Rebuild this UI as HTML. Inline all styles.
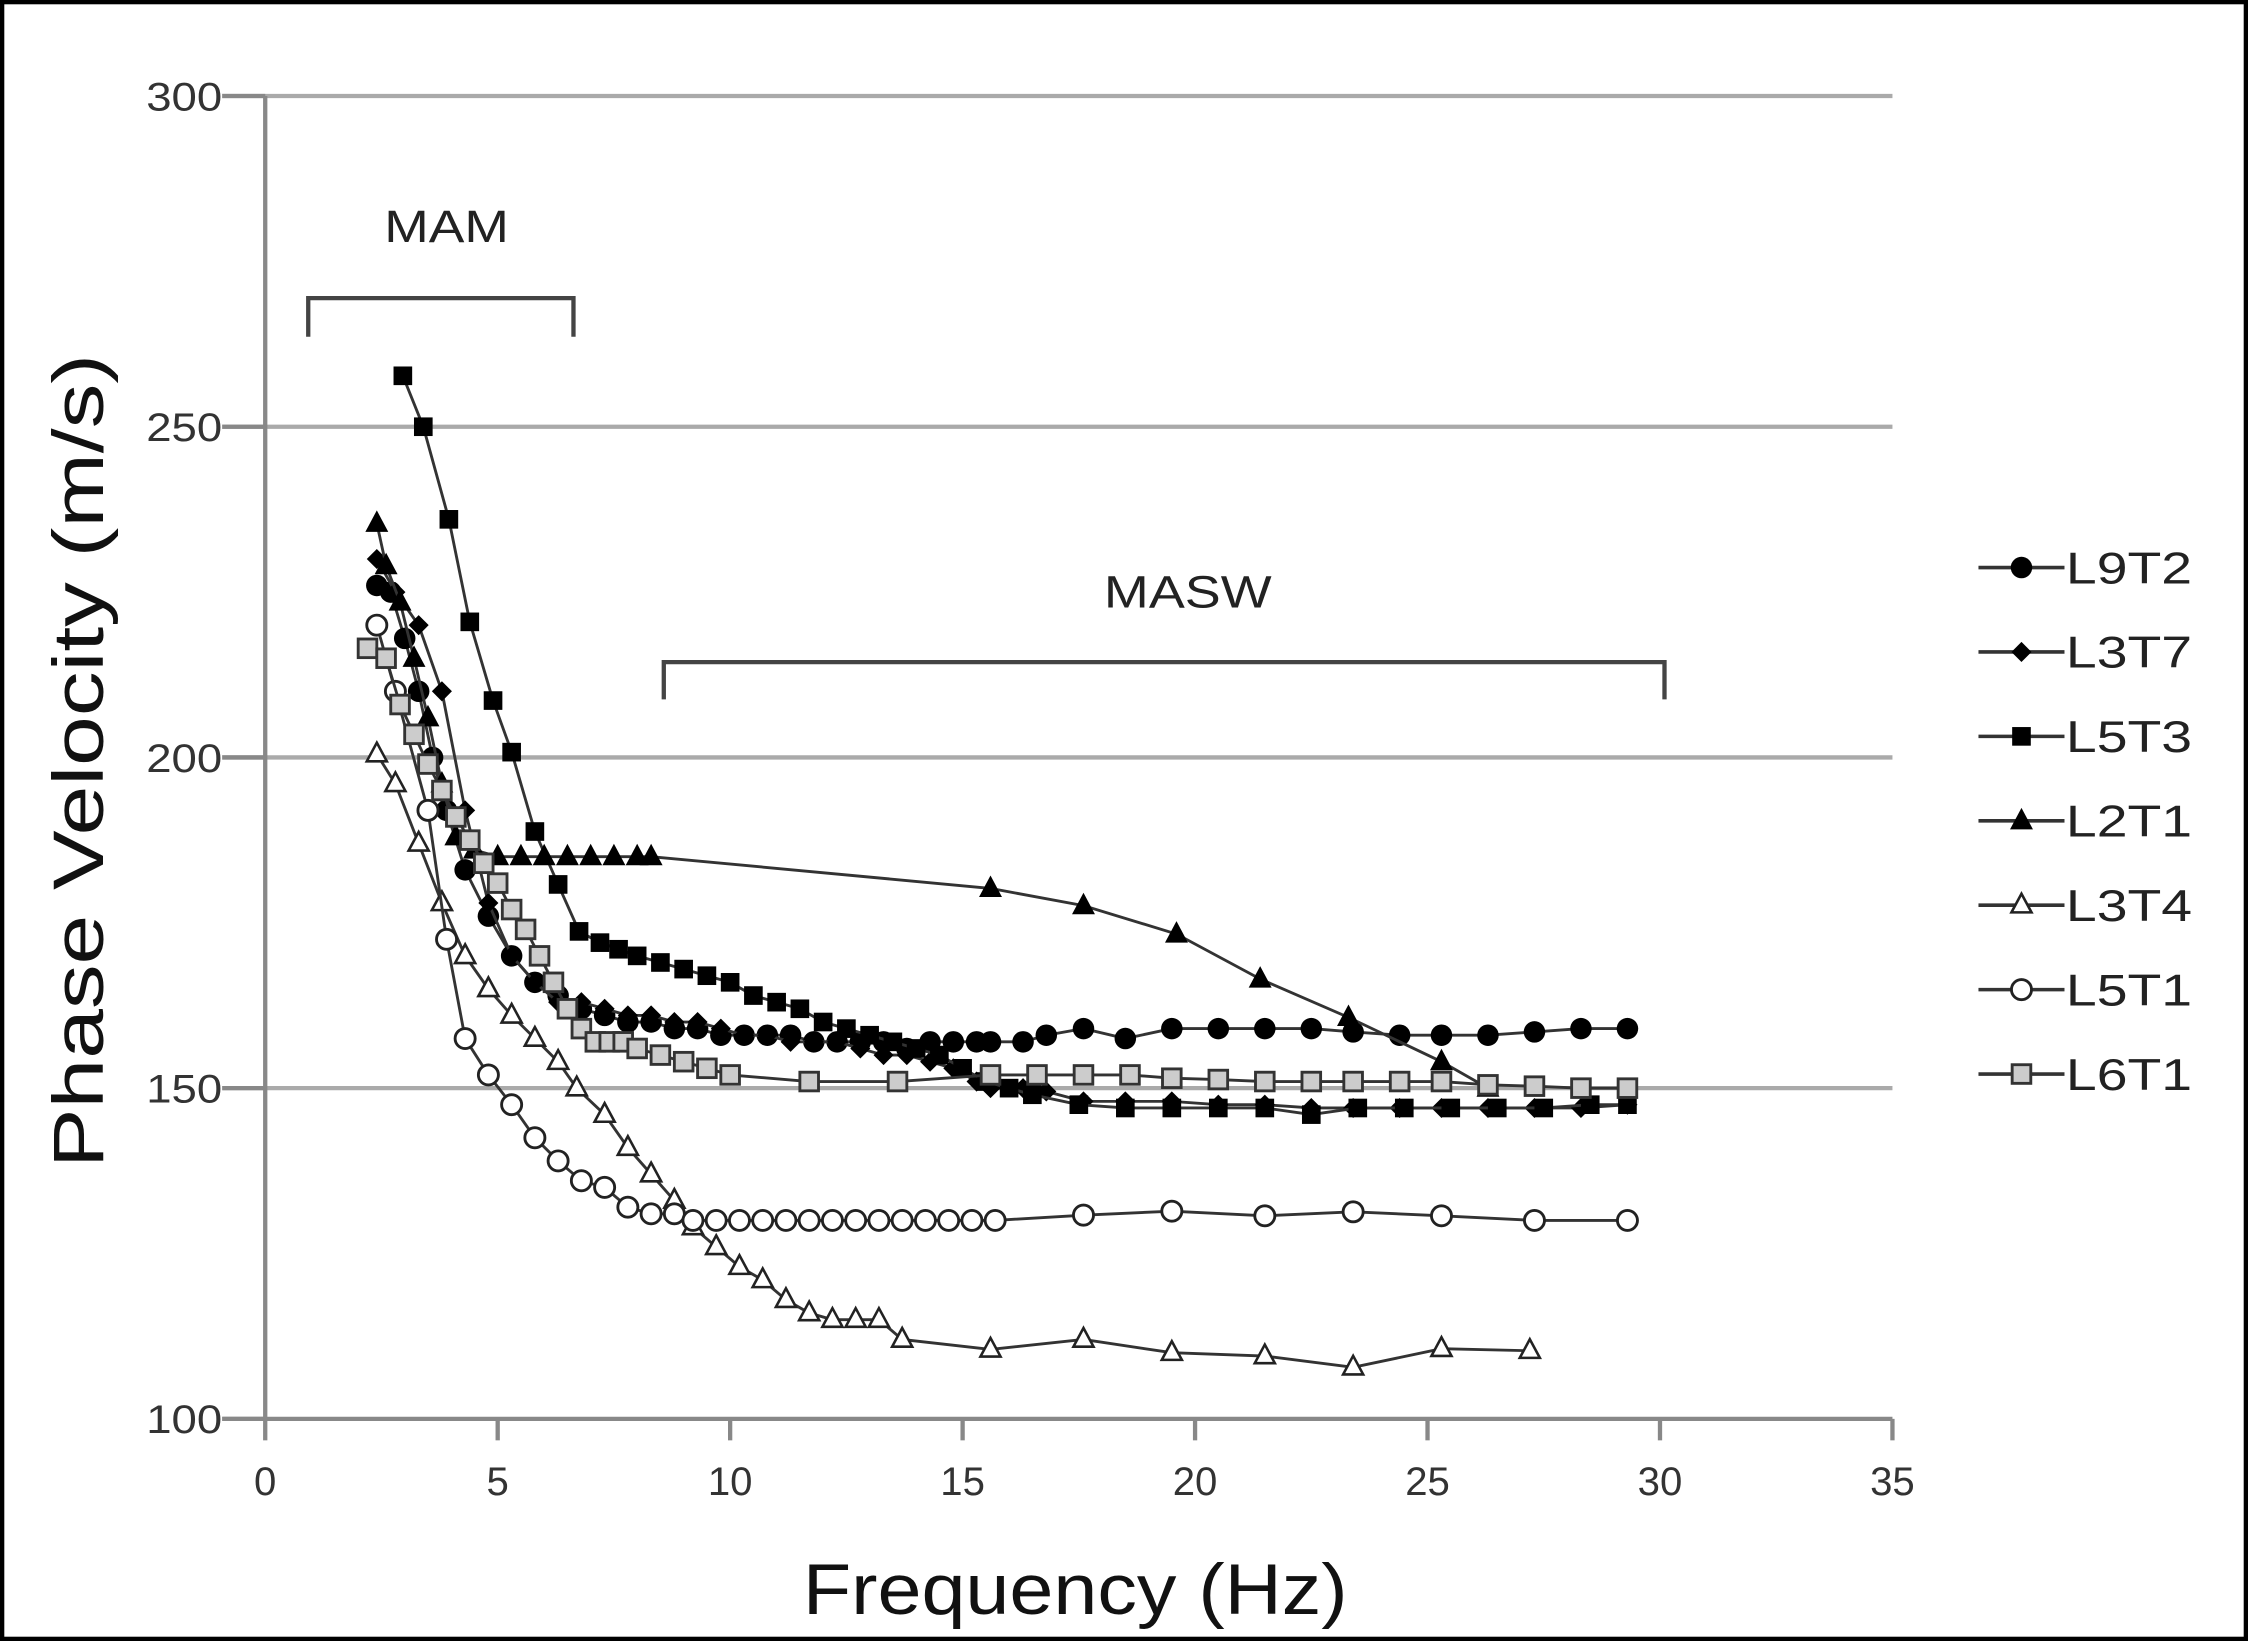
<!DOCTYPE html>
<html><head><meta charset="utf-8"><style>
html,body{margin:0;padding:0;background:#000;}
svg{display:block;}
text{font-family:"Liberation Sans",Arial,sans-serif;}
</style></head><body>
<svg id="chart" width="2248" height="1641" viewBox="0 0 1568 1145" preserveAspectRatio="none" xmlns="http://www.w3.org/2000/svg">
<rect x="3" y="3" width="1562" height="1139" fill="#fff"/>
<g id="grid"></g>
<g id="axes"></g>
<g id="series"></g>
<g id="legend"></g>
<text x="268" y="169" font-size="32" textLength="87" lengthAdjust="spacingAndGlyphs" fill="#222">MAM</text>
<path d="M215,235 V208 H400 V235" fill="none" stroke="#444" stroke-width="3"/>
<text x="770" y="424" font-size="32" textLength="117" lengthAdjust="spacingAndGlyphs" fill="#222">MASW</text>
<path d="M463,488 V462 H1161 V488" fill="none" stroke="#444" stroke-width="3"/>
<text x="560" y="1126" font-size="50" textLength="380" lengthAdjust="spacingAndGlyphs" fill="#111">Frequency (Hz)</text>
<text transform="translate(72,815) rotate(-90)" font-size="50" textLength="568" lengthAdjust="spacingAndGlyphs" fill="#111">Phase Velocity (m/s)</text>
</svg>
<script>
const xTicks=[0,5,10,15,20,25,30,35];
const yTicks=[100,150,200,250,300];
const seriesNames=["L9T2","L3T7","L5T3","L2T1","L3T4","L5T1","L6T1"];
const L9T2x=[2.4,2.7,3.0,3.3,3.6,3.9,4.3,4.8,5.3,5.8,6.3,6.8,7.3,7.8,8.3,8.8,9.3,9.8,10.3,10.8,11.3,11.8,12.3,12.8,13.3,13.8,14.3,14.8,15.3,15.6,16.3,16.8,17.6,18.5,19.5,20.5,21.5,22.5,23.4,24.4,25.3,26.3,27.3,28.3,29.3];
const L9T2y=[226,225,218,210,200,192,183,176,170,166,164,162,161,160,160,159,159,158,158,158,158,157,157,157,157,156,157,157,157,157,157,158,159,157.5,159,159,159,159,158.5,158,158,158,158.5,159,159];
const L3T7x=[2.4,2.8,3.3,3.8,4.3,4.8,5.3,5.8,6.3,6.8,7.3,7.8,8.3,8.8,9.3,9.8,10.3,10.8,11.3,11.8,12.3,12.8,13.3,13.8,14.3,14.8,15.3,15.6,16.3,16.8,17.6,18.5,19.5,20.5,21.5,22.5,23.4,24.4,25.3,26.3,27.3,28.3,29.3];
const L3T7y=[230,225,220,210,192,178,170,166,163,163,162,161,161,160,160,159,158,158,157,157,157,156,155,155,154,153,151,150,150,149.5,148,148,148,147.5,147.5,147,147,147,147,147,147,147,147.5];
const L5T3x=[2.96,3.4,3.95,4.4,4.9,5.3,5.8,6.3,6.75,7.2,7.6,8.0,8.5,9.0,9.5,10.0,10.5,11.0,11.5,12.0,12.5,13.0,13.5,14.0,14.5,15.0,15.5,16.0,16.5,17.5,18.5,19.5,20.5,21.5,22.5,23.5,24.5,25.5,26.5,27.5,28.5,29.3];
const L5T3y=[257.7,250,236,220.5,208.6,200.8,188.8,180.8,173.7,172,171,170,169,168,167,166,164,163,162,160,159,158,157,156,155,153,151,150,149,147.5,147,147,147,147,146,147,147,147,147,147,147.5,147.5];
const L2T1x=[2.4,2.6,2.9,3.2,3.5,3.8,4.1,4.5,5.0,5.5,6.0,6.5,7.0,7.5,8.0,8.3,15.6,17.6,19.6,21.4,23.3,25.3,26.3];
const L2T1y=[235.4,229,223.5,215,206,196,188,186,185,185,185,185,185,185,185,185,180.2,177.6,173.3,166.5,160.7,154,150];
const L3T4x=[2.4,2.8,3.3,3.8,4.3,4.8,5.3,5.8,6.3,6.7,7.3,7.8,8.3,8.8,9.2,9.7,10.2,10.7,11.2,11.7,12.2,12.7,13.2,13.7,15.6,17.6,19.5,21.5,23.4,25.3,27.2];
const L3T4y=[200.5,196,187,178,170,165,161,157.5,154,150,146,141,137,133,129,126,123,121,118,116,115,115,115,112,110.5,112,110,109.5,107.8,110.6,110.3];
const L5T1x=[2.4,2.8,3.5,3.9,4.3,4.8,5.3,5.8,6.3,6.8,7.3,7.8,8.3,8.8,9.2,9.7,10.2,10.7,11.2,11.7,12.2,12.7,13.2,13.7,14.2,14.7,15.2,15.7,17.6,19.5,21.5,23.4,25.3,27.3,29.3];
const L5T1y=[220,210,192,172.5,157.5,152,147.5,142.5,139,136,135,132,131,131,130,130,130,130,130,130,130,130,130,130,130,130,130,130,130.8,131.4,130.7,131.3,130.7,130,130];
const L6T1x=[2.2,2.6,2.9,3.2,3.5,3.8,4.1,4.4,4.7,5.0,5.3,5.6,5.9,6.2,6.5,6.8,7.1,7.4,7.7,8.0,8.5,9.0,9.5,10.0,11.7,13.6,15.6,16.6,17.6,18.6,19.5,20.5,21.5,22.5,23.4,24.4,25.3,26.3,27.3,28.3,29.3];
const L6T1y=[216.5,215,208,203.5,199,195,191,187.5,184,181,177,174,170,166,162,159,157,157,157,156,155,154,153,152,151,151,152,152,152,152,151.5,151.3,151,151,151,151,151,150.5,150.3,150,150];
const seriesX=[L9T2x,L3T7x,L5T3x,L2T1x,L3T4x,L5T1x,L6T1x];
const seriesY=[L9T2y,L3T7y,L5T3y,L2T1y,L3T4y,L5T1y,L6T1y];
const markers=["circle","diamond","square","triangle","otriangle","ocircle","gsquare"];
const NS="http://www.w3.org/2000/svg";
function sx(v){return 185+(v/35)*(1320-185);}
function sy(v){return 990-((v-100)/200)*(990-67);}
function mk(tag,attrs,parent){const e=document.createElementNS(NS,tag);for(const k in attrs)e.setAttribute(k,attrs[k]);parent.appendChild(e);return e;}
const grid=document.getElementById('grid'),axes=document.getElementById('axes'),ser=document.getElementById('series'),leg=document.getElementById('legend');
yTicks.forEach(t=>{
  if(t>100){const l=mk('line',{x1:155,x2:1320,y1:sy(t),y2:sy(t),stroke:'#aaa','stroke-width':3},grid);
  
  }
  const tk=mk('line',{x1:155,x2:185,y1:sy(t),y2:sy(t),stroke:'#888','stroke-width':3},axes);
  
  
  const tx=mk('text',{x:155,y:sy(t)+10,'font-size':28,'text-anchor':'end',fill:'#333',textLength:53,lengthAdjust:'spacingAndGlyphs'},axes);
  tx.textContent=t;
  
  
});
xTicks.forEach(t=>{
  const tk=mk('line',{x1:sx(t),x2:sx(t),y1:990,y2:1005,stroke:'#888','stroke-width':3},axes);
  
  
  const tx=mk('text',{x:sx(t),y:1043,'font-size':28,'text-anchor':'middle',fill:'#333'},axes);
  tx.textContent=t;
  
  
});
const ya=mk('line',{x1:185,x2:185,y1:67,y2:990,stroke:'#888','stroke-width':3},axes);


const xa=mk('line',{x1:155,x2:1320,y1:990,y2:990,stroke:'#888','stroke-width':3},axes);


function marker(type,x,y,g){
  let e;
  if(type==='circle')e=mk('circle',{cx:x,cy:y,r:7.5,fill:'#000'},g);
  else if(type==='ocircle')e=mk('circle',{cx:x,cy:y,r:7,fill:'#fff',stroke:'#222','stroke-width':2},g);
  else if(type==='diamond')e=mk('polygon',{points:`${x},${y-7} ${x+7},${y} ${x},${y+7} ${x-7},${y}`,fill:'#000'},g);
  else if(type==='square')e=mk('rect',{x:x-6.5,y:y-6.5,width:13,height:13,fill:'#000'},g);
  else if(type==='gsquare')e=mk('rect',{x:x-6.5,y:y-6.5,width:13,height:13,fill:'#ccc',stroke:'#333','stroke-width':2},g);
  else if(type==='triangle')e=mk('polygon',{points:`${x},${y-9} ${x+8},${y+6} ${x-8},${y+6}`,fill:'#000'},g);
  else e=mk('polygon',{points:`${x},${y-8} ${x+7},${y+5} ${x-7},${y+5}`,fill:'#fff',stroke:'#222','stroke-width':1.8},g);
  return e;
}
seriesNames.forEach((n,i)=>{
  const g=mk('g',{},ser);
  
  
  const xs=seriesX[i],ys=seriesY[i];
  const pts=xs.map((v,j)=>sx(v)+','+sy(ys[j])).join(' ');
  const pl=mk('polyline',{points:pts,fill:'none',stroke:'#333','stroke-width':2},g);
  
  
  xs.forEach((v,j)=>{
    const m=marker(markers[i],sx(v),sy(ys[j]),g);
    
    
  });
  const ly=396+i*58.9;
  const lg=mk('g',{},leg);
  
  
  mk('line',{x1:1380,x2:1440,y1:ly,y2:ly,stroke:'#333','stroke-width':2.5},lg);
  marker(markers[i],1410,ly,lg);
  const t=mk('text',{x:1441,y:ly+11,'font-size':31,fill:'#222',textLength:88,lengthAdjust:'spacingAndGlyphs'},lg);
  t.textContent=n;
});
</script>
</body></html>
